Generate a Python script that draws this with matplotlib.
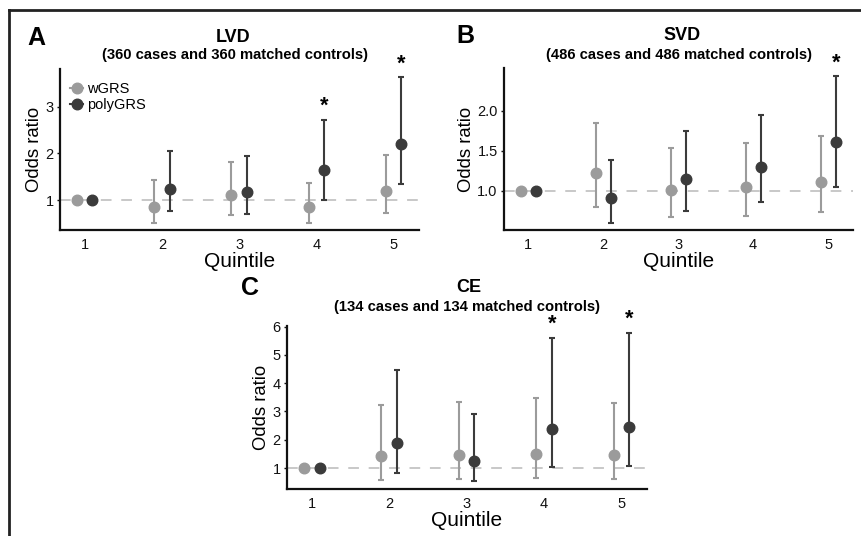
import matplotlib
matplotlib.use("Agg")
import matplotlib.pyplot as plt
from matplotlib.lines import Line2D
import numpy as np

plt.rcParams['font.family'] = ['Liberation Sans', 'DejaVu Sans']

quintiles = [1, 2, 3, 4, 5]
series = ["wGRS", "polyGRS"]
colors = {"wGRS": "#9b9b9b", "polyGRS": "#3b3b3b"}

# LVD
lvd_w_or = [1.0, 0.87, 1.11, 0.85, 1.20]
lvd_w_lo = [1.0, 0.52, 0.68, 0.51, 0.74]
lvd_w_hi = [1.0, 1.43, 1.82, 1.38, 1.97]
lvd_p_or = [1.0, 1.25, 1.18, 1.64, 2.20]
lvd_p_lo = [1.0, 0.77, 0.71, 1.01, 1.34]
lvd_p_hi = [1.0, 2.06, 1.94, 2.72, 3.62]
lvd_sig = [4, 5]

# SVD
svd_w_or = [1.0, 1.22, 1.01, 1.05, 1.11]
svd_w_lo = [1.0, 0.80, 0.67, 0.69, 0.73]
svd_w_hi = [1.0, 1.85, 1.53, 1.60, 1.68]
svd_p_or = [1.0, 0.91, 1.14, 1.29, 1.61]
svd_p_lo = [1.0, 0.60, 0.75, 0.86, 1.05]
svd_p_hi = [1.0, 1.38, 1.74, 1.95, 2.43]
svd_sig = [5]

# CE
ce_w_or = [1.0, 1.41, 1.46, 1.50, 1.45]
ce_w_lo = [1.0, 0.59, 0.62, 0.66, 0.63]
ce_w_hi = [1.0, 3.22, 3.32, 3.48, 3.31]
ce_p_or = [1.0, 1.88, 1.26, 2.37, 2.44]
ce_p_lo = [1.0, 0.82, 0.54, 1.02, 1.06]
ce_p_hi = [1.0, 4.45, 2.92, 5.61, 5.78]
ce_sig = [4, 5]

W, H = 861, 536
fig = plt.figure(figsize=(W / 100, H / 100), dpi=100)


def px_axes(x0, y0, x1, y1):
    return fig.add_axes([x0 / W, 1 - y1 / H, (x1 - x0) / W, (y1 - y0) / H])


def ftext(x, y, s, **kw):
    fig.text(x / W, 1 - y / H, s, **kw)


def panel(ax, w, p, yticks, yticklabels, ylim, sig):
    dodge = 0.1
    ax.axhline(1.0, color="#c8c8c8", lw=1.4, dashes=[5.5, 5], zorder=1)
    q = np.array(quintiles, dtype=float)
    for name, (orv, lo, hi), off in [("wGRS", w, -dodge), ("polyGRS", p, dodge)]:
        orv = np.array(orv); lo = np.array(lo); hi = np.array(hi)
        ax.errorbar(q + off, orv, yerr=[orv - lo, hi - orv], fmt='o',
                    color=colors[name], ms=7.6, elinewidth=1.5, capsize=2.4,
                    capthick=1.5, zorder=3, clip_on=False)
    for s in sig:
        i = quintiles.index(s)
        ax.annotate("*", (quintiles[i] + dodge, p[2][i]), xytext=(0, 2),
                    textcoords="offset points", ha="center", va="bottom",
                    fontsize=15.5, fontweight="bold", annotation_clip=False)
    ax.set_xlim(0.68, 5.33)
    ax.set_ylim(*ylim)
    ax.set_xticks(quintiles)
    ax.set_xticklabels([str(v) for v in quintiles])
    ax.set_yticks(yticks)
    ax.set_yticklabels(yticklabels)
    for sp in ["top", "right"]:
        ax.spines[sp].set_visible(False)
    for sp in ["left", "bottom"]:
        ax.spines[sp].set_linewidth(1.6)
        ax.spines[sp].set_color("#111111")
    ax.tick_params(axis="x", length=0, pad=6, labelsize=10.5, colors="#111111")
    ax.tick_params(axis="y", length=2.5, width=1, pad=2, labelsize=10.5, colors="#111111")
    ax.set_xlabel("Quintile", fontsize=15, labelpad=0)
    ax.set_ylabel("Odds ratio", fontsize=13.3, labelpad=2)
    ax.patch.set_alpha(0)


axA = px_axes(60, 69, 419, 230)
panel(axA, (lvd_w_or, lvd_w_lo, lvd_w_hi), (lvd_p_or, lvd_p_lo, lvd_p_hi),
      [1, 2, 3], ["1", "2", "3"], (0.37, 3.80), lvd_sig)

axB = px_axes(504, 68, 853, 230)
panel(axB, (svd_w_or, svd_w_lo, svd_w_hi), (svd_p_or, svd_p_lo, svd_p_hi),
      [1.0, 1.5, 2.0], ["1.0", "1.5", "2.0"], (0.51, 2.53), svd_sig)

axC = px_axes(287, 326, 647, 489)
panel(axC, (ce_w_or, ce_w_lo, ce_w_hi), (ce_p_or, ce_p_lo, ce_p_hi),
      [1, 2, 3, 4, 5, 6], ["1", "2", "3", "4", "5", "6"], (0.26, 6.02), ce_sig)

# legend in panel A
handles = [Line2D([0], [0], color=colors[s], marker='o', ms=7.6, lw=1.5) for s in series]
axA.legend(handles, series, loc="upper left", bbox_to_anchor=(70 / W, 1 - 82 / H),
           bbox_transform=fig.transFigure, frameon=False, fontsize=10.5,
           handlelength=0.9, handletextpad=0.3, labelspacing=0.15, borderpad=0,
           borderaxespad=0)

# titles
ftext(36, 38.5, "A", fontsize=18, fontweight="bold", ha="center", va="center")
ftext(233, 38, "LVD", fontsize=13, fontweight="bold", ha="center", va="center")
ftext(235, 55.5, "(360 cases and 360 matched controls)", fontsize=10.6, fontweight="bold",
      ha="center", va="center")

ftext(465, 36, "B", fontsize=18, fontweight="bold", ha="center", va="center")
ftext(682, 36, "SVD", fontsize=13, fontweight="bold", ha="center", va="center")
ftext(679, 54.5, "(486 cases and 486 matched controls)", fontsize=10.6, fontweight="bold",
      ha="center", va="center")

ftext(250, 288, "C", fontsize=18, fontweight="bold", ha="center", va="center")
ftext(469, 288, "CE", fontsize=13, fontweight="bold", ha="center", va="center")
ftext(467, 307.5, "(134 cases and 134 matched controls)", fontsize=10.6, fontweight="bold",
      ha="center", va="center")

# frame lines (top and left)
fig.add_artist(Line2D([8.7 / W, 8.7 / W], [0, 1 - 10 / H], transform=fig.transFigure,
                      color="#222222", lw=2))
fig.add_artist(Line2D([8.7 / W, 1], [1 - 10 / H, 1 - 10 / H], transform=fig.transFigure,
                      color="#222222", lw=2))

fig.savefig("out.png", dpi=100)
